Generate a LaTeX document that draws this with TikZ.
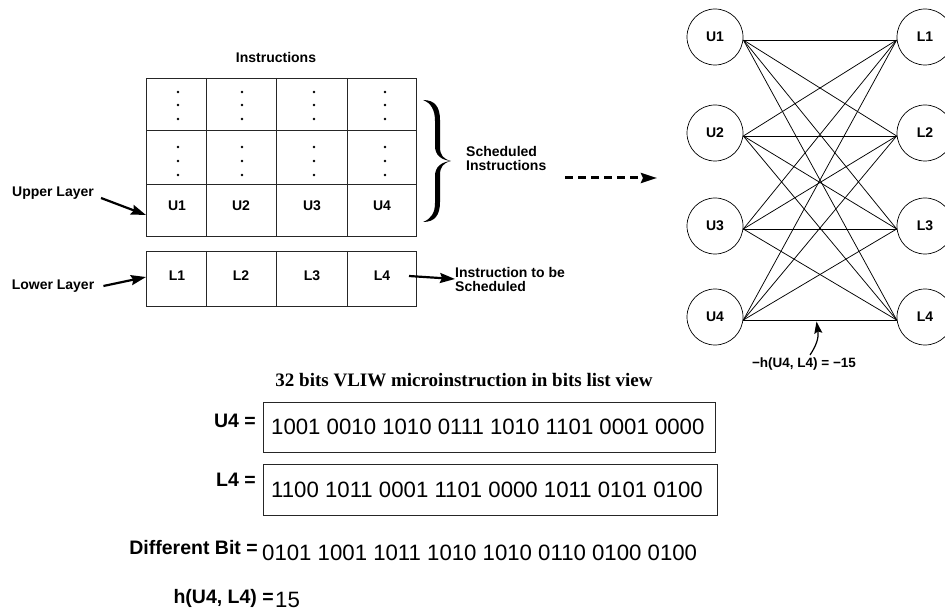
\documentclass[tikz,border=0pt]{standalone}
\usepackage{fontspec}
\setmainfont{Liberation Sans}
\newfontfamily\titlefont{Liberation Serif}
\usetikzlibrary{arrows.meta}

\begin{document}
\begin{tikzpicture}[x=1pt,y=-1pt,
  gridline/.style={line width=0.9pt, draw=black!85},
  small/.style={font=\fontsize{14}{14}\selectfont\bfseries, inner sep=0pt},
  celltext/.style={font=\fontsize{14}{14}\selectfont\bfseries, inner sep=0pt},
  bigl/.style={font=\fontsize{19.5}{19.5}\selectfont\bfseries, inner sep=0pt, anchor=east},
  bits/.style={font=\fontsize{22.2}{22.2}\selectfont, inner sep=0pt, anchor=west},
  vert/.style={circle, draw, line width=0.7pt, minimum size=56pt, inner sep=0pt,
               font=\fontsize{14}{14}\selectfont\bfseries},
  edge/.style={line width=0.75pt},
  pointer/.style={line width=2.2pt, -{Stealth[length=15pt,width=10pt,inset=2pt]}},
  bitbox/.style={line width=0.9pt, draw=black!85},
]
\useasboundingbox (0,0) rectangle (945,612);

% ---------- instruction table ----------
\node[small] (instr) at (276,57) {Instructions};
\draw[gridline] (146,78) rectangle (416,236);
\draw[gridline] (146,130) -- (416,130) (146,184) -- (416,184);
\foreach \x in {206,276,347.5} \draw[gridline] (\x,78) -- (\x,236);
\draw[gridline] (146,251) rectangle (416,306);
\foreach \x in {206,276,347.5} \draw[gridline] (\x,251) -- (\x,306);

% dots in the scheduled rows
\foreach \x in {178,242,314,385}
  \foreach \y in {92,105,119,147,161,175}
    \fill (\x,\y) circle (1.4);

% upper and lower layer cells
\node[celltext] (cu1) at (177,206) {U1};
\node[celltext] (cu2) at (241,206) {U2};
\node[celltext] (cu3) at (312,206) {U3};
\node[celltext] (cu4) at (382,206) {U4};
\node[celltext] (cl1) at (177,276) {L1};
\node[celltext] (cl2) at (241,276) {L2};
\node[celltext] (cl3) at (312,276) {L3};
\node[celltext] (cl4) at (382,276) {L4};

% side labels and pointers
\node[small] (upper) at (53,193) {Upper Layer};
\node[small] (lower) at (53,286) {Lower Layer};
\coordinate (upin) at (146,215);
\coordinate (lowin) at (146,277);
\draw[pointer] ([xshift=7pt,yshift=-5pt]upper.east) -- (upin);
\draw[pointer] ([xshift=9pt]lower.east) -- (lowin);

\coordinate (outstart) at (409,276);
\node[small, anchor=west, align=left] (tobe) at (455,279) {Instruction to be\\Scheduled};
\draw[pointer] (outstart) -- (tobe.west);

% brace over the scheduled rows
\fill (423,100) .. controls (435,100) and (440,107) .. (440,120)
  -- (440,147) .. controls (440,155) and (443,159) .. (451,161)
  .. controls (443,163) and (440,167) .. (440,175)
  -- (440,202) .. controls (440,215) and (435,222) .. (423,222)
  .. controls (431,219) and (435,213) .. (435,203)
  -- (435,176) .. controls (435,167) and (441,162) .. (451,161)
  .. controls (441,160) and (435,155) .. (435,146)
  -- (435,121) .. controls (435,110) and (431,103) .. (423,100) -- cycle;
\node[small, anchor=west, align=left] (sched) at (466,158) {Scheduled\\Instructions};

% dashed transition arrow
\coordinate (dstart) at (565,178);
\coordinate (dend) at (657,178);
\draw[line width=3pt, dash pattern=on 8pt off 5pt,
      -{Stealth[length=16pt,width=10pt,inset=2pt]}] (dstart) -- (dend);

% ---------- bipartite graph ----------
\foreach \n/\y in {1/37,2/133,3/226,4/317} {
  \node[vert] (U\n) at (715,\y) {U\n};
  \node[vert] (L\n) at (925,\y) {L\n};
}
\foreach \i in {1,...,4}
  \foreach \j in {1,...,4}
    \draw[edge] ([yshift=-3pt]U\i.east) -- ([yshift=-3pt]L\j.west);

\node[font=\fontsize{13.5}{13.5}\selectfont\bfseries, inner sep=0pt] (hval) at (804,364)
  {\textminus h(U4, L4) = \textminus 15};
\coordinate (hmark) at (816.5,321.5);
\draw[line width=1.2pt, -{Stealth[length=12pt,width=8pt,inset=2pt]}]
  (810,355) .. controls (816,346) and (819,338) .. (hmark);

% ---------- bit strings ----------
\node[font=\fontsize{19}{19}\selectfont\titlefont\bfseries, inner sep=0pt] (title) at (464,380)
  {32 bits VLIW microinstruction in bits list view};

\draw[bitbox] (263,402) rectangle (715,452);
\draw[bitbox] (263,464) rectangle (717,515);
\node[bigl] (u4lbl) at (256,421) {U4 =};
\node[bits] (u4bits) at (271,427) {1001 0010 1010 0111 1010 1101 0001 0000};
\node[bigl] (l4lbl) at (256,480) {L4 =};
\node[bits] (l4bits) at (271,490) {1100 1011 0001 1101 0000 1011 0101 0100};

\node[bigl] (difflbl) at (258,548) {Different Bit =};
\node[bits] (diffbits) at (262,553) {0101 1001 1011 1010 1010 0110 0100 0100};

\node[bigl] (hlbl) at (274,598) {h(U4, L4) =};
\node[bits] (hbits) at (275,600) {15};
\end{tikzpicture}
\end{document}
